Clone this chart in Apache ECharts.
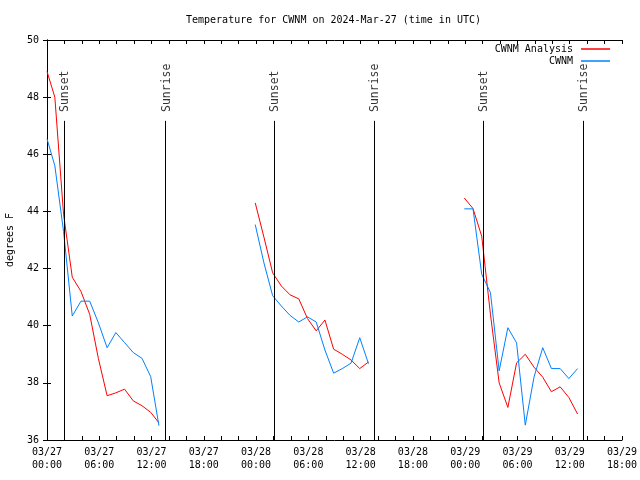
<!DOCTYPE html>
<html>
<head>
<meta charset="utf-8">
<script src="https://cdn.jsdelivr.net/npm/echarts@6/dist/echarts.min.js"></script>
<style>
html,body{margin:0;padding:0;background:#fff;}
#c{width:640px;height:480px;}
</style>
</head>
<body>
<div id="c"></div>
<script>
const titleText = 'Temperature for CWNM on 2024-Mar-27 (time in UTC)';
const seriesNames = ['CWNM Analysis', 'CWNM'];
const xTickLabels = ['03/27\n00:00','03/27\n06:00','03/27\n12:00','03/27\n18:00',
  '03/28\n00:00','03/28\n06:00','03/28\n12:00','03/28\n18:00',
  '03/29\n00:00','03/29\n06:00','03/29\n12:00','03/29\n18:00'];
const yTickLabels = ['36','38','40','42','44','46','48','50'];

// hours since 03/27 00:00 UTC
const hours1 = [0, 0.9, 1.9, 2.9, 3.9, 4.9, 5.9, 6.9, 7.9, 8.9, 9.9, 10.9, 11.9, 12.85];
const analysis1 = [48.9, 48.0, 43.9, 41.7, 41.2, 40.4, 38.85, 37.55, 37.65, 37.78, 37.37, 37.2, 36.97, 36.6];
const obs1 = [46.54, 45.6, 43.3, 40.34, 40.86, 40.86, 40.1, 39.23, 39.76, 39.41, 39.06, 38.86, 38.22, 36.5];

const hours2 = [23.9, 24.9, 25.9, 26.9, 27.9, 28.9, 29.9, 30.9, 31.9, 32.9, 33.9, 34.9, 35.9, 36.9];
const analysis2 = [44.3, 43.1, 41.85, 41.39, 41.08, 40.94, 40.25, 39.82, 40.2, 39.18, 39.0, 38.8, 38.5, 38.73];
const obs2 = [43.54, 42.2, 41.05, 40.69, 40.36, 40.13, 40.31, 40.13, 39.15, 38.34, 38.5, 38.69, 39.58, 38.67];

const hours3 = [47.9, 48.9, 49.9, 50.9, 51.9, 52.9, 53.9, 54.9, 55.9, 56.9, 57.9, 58.9, 59.9, 60.9];
const analysis3 = [44.47, 44.1, 43.13, 40.4, 38.0, 37.14, 38.7, 39.0, 38.55, 38.2, 37.69, 37.86, 37.49, 36.91];
const obs3 = [44.09, 44.09, 41.8, 41.16, 38.42, 39.93, 39.4, 36.52, 38.2, 39.23, 38.5, 38.5, 38.15, 38.5];

const eventHours = [2.0, 13.62, 26.05, 37.57, 50.08, 61.56];
const eventNames = ['Sunset', 'Sunrise', 'Sunset', 'Sunrise', 'Sunset', 'Sunrise'];
const eventLineTop = 47.17;
const eventLabelBase = 47.48;

const FONT = 'DejaVu Sans Mono';
const RED = '#ff0000';
const BLUE = '#0080ff';

function pairs(xs, ys){ return xs.map((x,i)=>[x, ys[i]]); }

const segs = [[hours1, analysis1, obs1],[hours2, analysis2, obs2],[hours3, analysis3, obs3]];
const series = [];
segs.forEach(s => {
  series.push({name: seriesNames[0], type:'line', data: pairs(s[0], s[1]), showSymbol:false,
    color: RED, lineStyle:{color: RED, width:1}, silent:true, z:3});
  series.push({name: seriesNames[1], type:'line', data: pairs(s[0], s[2]), showSymbol:false,
    color: BLUE, lineStyle:{color: BLUE, width:1}, silent:true, z:3});
});
series.push({
  type:'line', data:[], silent:true,
  markLine:{
    symbol:['none','none'], silent:true, animation:false,
    lineStyle:{color:'#000', width:1, type:'solid'},
    label:{show:false},
    data: eventHours.map(h => [{coord:[h, 36]}, {coord:[h, eventLineTop]}])
  }
});
series.push({
  type:'scatter', symbolSize:0, silent:true,
  data: eventHours.map((h,i)=>[h, eventLabelBase, eventNames[i]]),
  label:{show:true, position:[1,0], rotate:90, align:'left', verticalAlign:'middle',
    formatter: p => p.value[2], fontFamily: FONT, fontSize:11.5, color:'#000'}
});

const chart = echarts.init(document.getElementById('c'), null, {renderer:'canvas'});
chart.setOption({
  animation:false,
  backgroundColor:'#fff',
  title:{text: titleText, left:186, top:15, padding:0,
    textStyle:{fontFamily:FONT, fontSize:10, fontWeight:'normal', color:'#000'}},
  legend:{
    orient:'vertical', right:25, top:38, align:'right', itemGap:0,
    itemWidth:29, itemHeight:1.5, icon:'rect',
    data: seriesNames.map((n,i)=>({name:n, itemStyle:{color: i===0?RED:BLUE}})),
    textStyle:{fontFamily:FONT, fontSize:10, color:'#000', lineHeight:12, padding:[0,3,0,0]},
    selectedMode:false
  },
  grid:{left:47, right:18, top:40, bottom:40, containLabel:false, outerBoundsMode:'none'},
  xAxis:[{
    type:'value', min:0, max:66, interval:2, position:'bottom',
    axisLine:{show:true, lineStyle:{color:'#000', width:1}},
    axisTick:{show:true, inside:true, length:4, lineStyle:{color:'#000'}},
    splitLine:{show:false},
    axisLabel:{show:true, margin:6, fontFamily:FONT, fontSize:10, color:'#000', lineHeight:13,
      formatter: v => (v % 6 === 0) ? xTickLabels[v/6] : ''}
  },{
    type:'value', min:0, max:66, interval:2, position:'top',
    axisLine:{show:true, lineStyle:{color:'#000', width:1}},
    axisTick:{show:true, inside:true, length:4, lineStyle:{color:'#000'}},
    splitLine:{show:false}, axisLabel:{show:false}
  }],
  yAxis:[{
    type:'value', min:36, max:50, interval:2, position:'left',
    name:'degrees F', nameLocation:'middle', nameRotate:90, nameGap:32,
    nameTextStyle:{fontFamily:FONT, fontSize:10, color:'#000'},
    axisLine:{show:true, lineStyle:{color:'#000', width:1}},
    axisTick:{show:true, inside:true, length:4, lineStyle:{color:'#000'}},
    splitLine:{show:false},
    axisLabel:{show:true, margin:8, fontFamily:FONT, fontSize:10, color:'#000',
      formatter: v => yTickLabels[(v-36)/2]}
  },{
    type:'value', min:36, max:50, interval:2, position:'right',
    axisLine:{show:true, lineStyle:{color:'#000', width:1}},
    axisTick:{show:true, inside:true, length:4, lineStyle:{color:'#000'}},
    splitLine:{show:false}, axisLabel:{show:false}
  }],
  series: series
});
</script>
</body>
</html>
